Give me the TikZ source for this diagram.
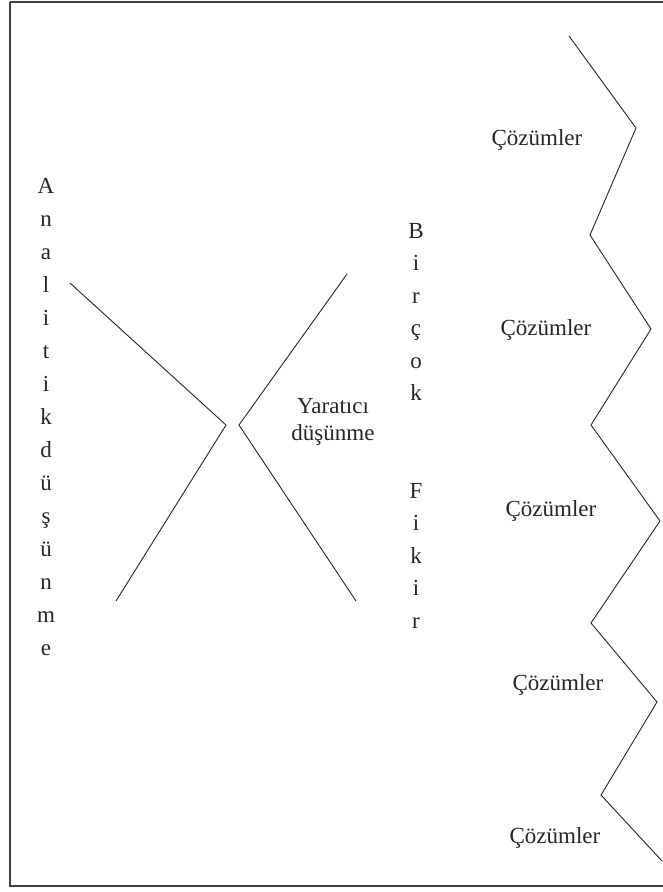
\documentclass[tikz,border=0pt]{standalone}
\usepackage{fontspec}
\setmainfont{Liberation Serif}
\begin{document}
\begin{tikzpicture}[x=1pt,y=-1pt,
  txt/.style={font=\fontsize{23}{27}\selectfont, inner sep=0pt, anchor=base, text=black!85},
  vletter/.style={txt},
  ln/.style={line width=0.9pt, black!85},
  frame/.style={line width=1.8pt, black!75}]
\useasboundingbox (0,0) rectangle (663,892);
\fill[white] (0,0) rectangle (663,892);
\draw[frame] (10,2) -- (680,2) (10,2) -- (10,886) -- (680,886);

% vertical words
\foreach \ch [count=\i from 0] in {A,n,a,l,i,t,i,k,d,ü,ş,ü,n,m,e}
  \node[vletter] (an\i) at (46,{193+33*\i}) {\ch};
\foreach \ch [count=\i from 0] in {B,i,r,ç,o,k}
  \node[vletter] (bc\i) at (416,{238+32.5*\i}) {\ch};
\foreach \ch [count=\i from 0] in {F,i,k,i,r}
  \node[vletter] (fk\i) at (416,{498+32.5*\i}) {\ch};

% centre text
\node[txt] (yar) at (333,413) {Yaratıcı};
\node[txt] (dus) at (333,440) {düşünme};

% the two converging/diverging shapes
\coordinate (l1) at (70,283);
\coordinate (l2) at (226,425);
\coordinate (l3) at (116,601);
\coordinate (r1) at (347,274);
\coordinate (r2) at (239,425);
\coordinate (r3) at (356,601);
\draw[ln] (l1) -- (l2) -- (l3);
\draw[ln] (r1) -- (r2) -- (r3);

% zigzag
\coordinate (z0) at (569,36);
\coordinate (z1) at (636,128);
\coordinate (z2) at (590,235);
\coordinate (z3) at (651,329);
\coordinate (z4) at (591,425);
\coordinate (z5) at (660,521);
\coordinate (z6) at (591,623);
\coordinate (z7) at (657,702);
\coordinate (z8) at (601,795);
\coordinate (z9) at (662,861);
\draw[ln] (z0) -- (z1) -- (z2) -- (z3) -- (z4) -- (z5) -- (z6) -- (z7) -- (z8) -- (z9);

% solution labels
\node[txt] (c1) at (537,145) {Çözümler};
\node[txt] (c2) at (546,335) {Çözümler};
\node[txt] (c3) at (551,516) {Çözümler};
\node[txt] (c4) at (558,690) {Çözümler};
\node[txt] (c5) at (555,843) {Çözümler};
\end{tikzpicture}
\end{document}
